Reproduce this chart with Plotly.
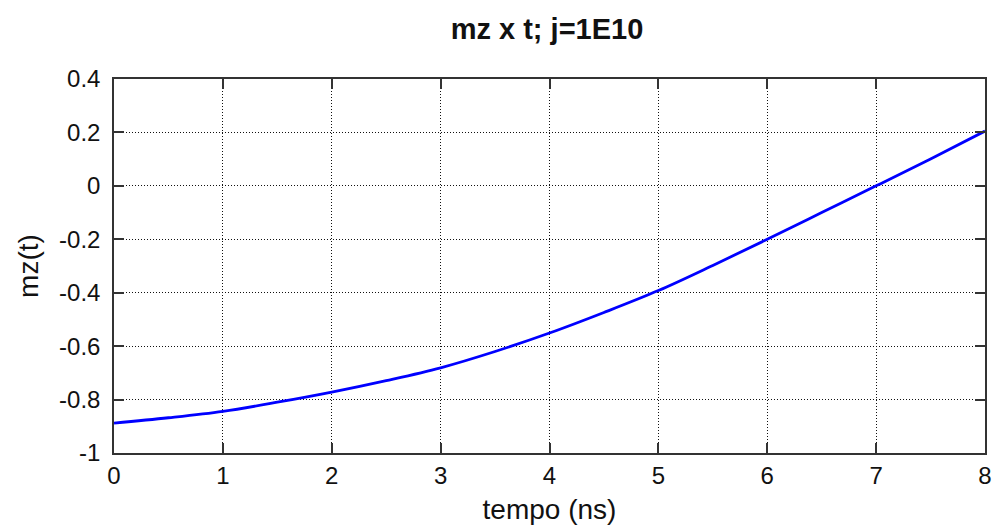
import plotly.graph_objects as go

t_ns = [0, 0.5, 1, 1.5, 2, 2.5, 3, 3.5, 4, 4.5, 5, 5.5, 6, 6.5, 7, 7.5, 8]
mz = [-0.888, -0.868, -0.844, -0.810, -0.772, -0.729, -0.681, -0.620, -0.551,
      -0.474, -0.392, -0.298, -0.200, -0.100, 0.000, 0.101, 0.205]

x_ticks = [0, 1, 2, 3, 4, 5, 6, 7, 8]
y_ticks = [-1, -0.8, -0.6, -0.4, -0.2, 0, 0.2, 0.4]
y_tick_labels = ["-1", "-0.8", "-0.6", "-0.4", "-0.2", "0", "0.2", "0.4"]

FONT = "Liberation Sans, Arial, sans-serif"

fig = go.Figure()
fig.add_trace(go.Scatter(x=t_ns, y=mz, mode="lines", line=dict(color="#0000FF", width=2.8, shape="spline"),
                         showlegend=False))

axis_common = dict(
    showline=True, linecolor="#333333", linewidth=1.5, mirror="ticks",
    ticks="inside", ticklen=10, tickcolor="#333333", tickwidth=1.5,
    showgrid=True, gridcolor="#111111", griddash="1px,2px", gridwidth=1.2,
    zeroline=False, automargin=False, tickfont=dict(family=FONT, size=24, color="#111111"),
)

fig.update_layout(
    width=994, height=527,
    paper_bgcolor="white", plot_bgcolor="white",
    margin=dict(l=114, r=9, t=79, b=74),
    title=dict(text="<b>mz x t; j=1E10</b>", x=0.5503, xref="container", xanchor="center",
               y=1 - 29 / 527, yref="container", yanchor="middle",
               font=dict(family=FONT, size=29, color="#111111")),
    xaxis=dict(range=[0, 8], tickvals=x_ticks, ticklabelstandoff=0,
               title=dict(text="tempo (ns)", standoff=12,
                          font=dict(family=FONT, size=28, color="#111111")), **axis_common),
    yaxis=dict(range=[-1, 0.4], tickvals=y_ticks, ticktext=y_tick_labels, ticklabelstandoff=7,
               title=dict(text="mz(t)", standoff=12, font=dict(family=FONT, size=28, color="#111111")),
               **axis_common),
)

fig.write_html("out.html", config={"displayModeBar": False},
               post_script="document.body.style.margin='0';document.body.style.overflow='hidden';")
